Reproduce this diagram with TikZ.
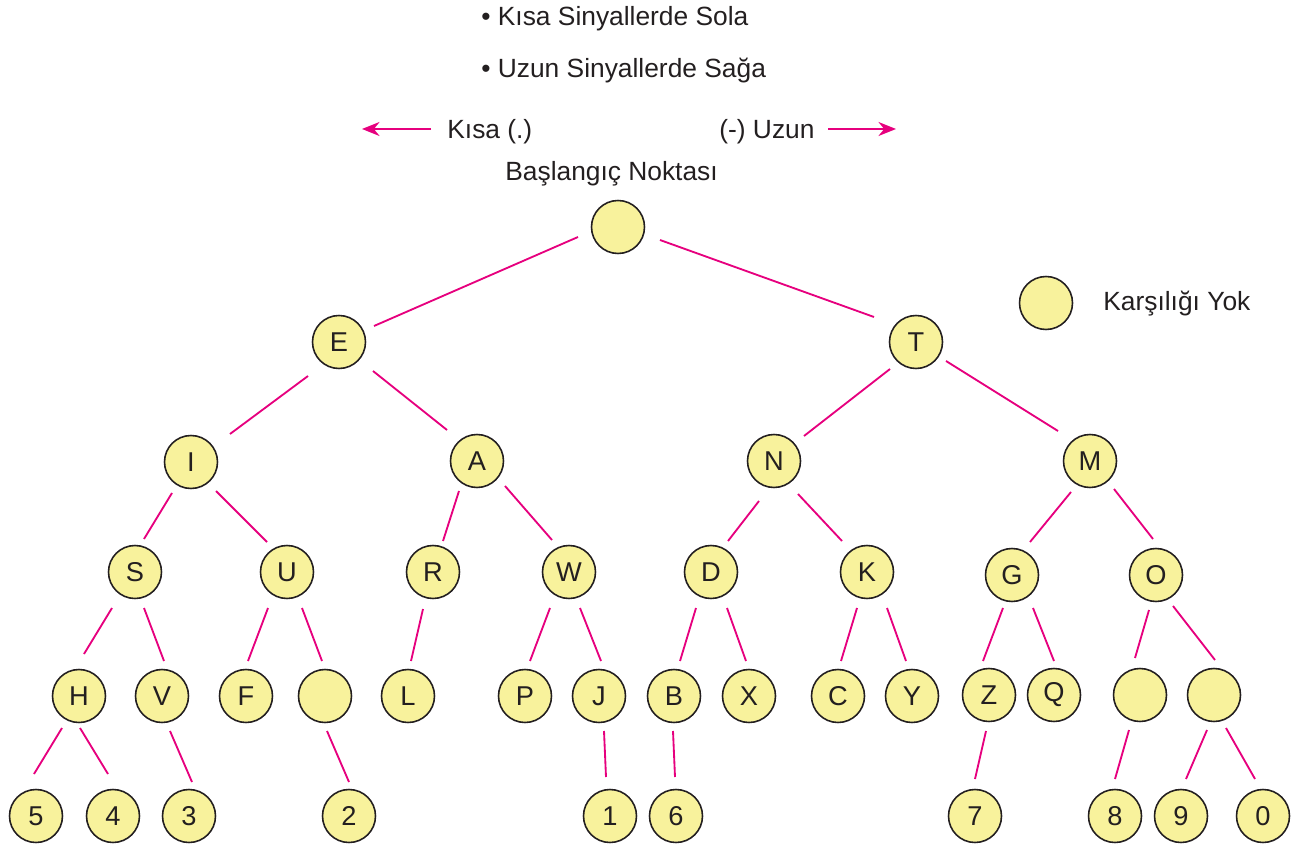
\documentclass[tikz,border=0pt]{standalone}
\usepackage{fontspec}
\setmainfont{Liberation Sans}
\usetikzlibrary{calc,arrows.meta}
\definecolor{pinkline}{HTML}{E6007E}
\definecolor{nodefill}{HTML}{F8F29C}
\definecolor{txt}{HTML}{231F20}
\newcommand\lnk[6]{\draw[conn] ($(#1)+(#3,#4)$) -- ($(#2)+(#5,#6)$);}
\begin{document}
\begin{tikzpicture}[x=0.02cm,y=-0.02cm,
  circ/.style={circle,draw=txt,line width=0.9pt,fill=nodefill,minimum size=1.06cm,inner sep=0pt,text=txt,font=\fontsize{15.5}{18}\selectfont},
  conn/.style={draw=pinkline,line width=1.05pt},
  arr/.style={draw=pinkline,line width=1.05pt,-{Stealth[length=10pt,width=8pt]}},
  lbl/.style={anchor=base west,inner sep=0pt,text=txt,font=\fontsize{15}{18}\selectfont}]
\useasboundingbox (0,0) rectangle (1311,847);
% texts
\node[lbl] (t1) at (481,26) {• Kısa Sinyallerde Sola};
\node[lbl] (t2) at (481,78) {• Uzun Sinyallerde Sağa};
\node[lbl] (ks) at (447,139) {Kısa (.)};
\node[lbl] (uz) at (719,139) {(-) Uzun};
\node[lbl] (bn) at (505,181) {Başlangıç Noktası};
\coordinate (la1) at (431,129); \coordinate (la2) at (362,129);
\coordinate (ra1) at (828,129); \coordinate (ra2) at (896,129);
\draw[arr] (la1) -- (la2);
\draw[arr] (ra1) -- (ra2);
% legend
\node[circ] (leg) at (1046,303) {};
\node[lbl] (legt) at (1103,311) {Karşılığı Yok};
% nodes
\node[circ] (root) at (618,227) {};
\node[circ] (E) at (339,342) {E};
\node[circ] (T) at (916,342) {T};
\node[circ] (I) at (191,462) {I};
\node[circ] (A) at (477,461) {A};
\node[circ] (N) at (774,461) {N};
\node[circ] (M) at (1090,461) {M};
\node[circ] (S) at (135,572) {S};
\node[circ] (U) at (287,572) {U};
\node[circ] (R) at (433,572) {R};
\node[circ] (W) at (569,572) {W};
\node[circ] (D) at (711,572) {D};
\node[circ] (K) at (867,572) {K};
\node[circ] (G) at (1012,575) {G};
\node[circ] (O) at (1156,575) {O};
\node[circ] (H) at (79,696) {H};
\node[circ] (V) at (162,696) {V};
\node[circ] (F) at (246,696) {F};
\node[circ] (u2) at (325,696) {};
\node[circ] (L) at (408,696) {L};
\node[circ] (P) at (525,696) {P};
\node[circ] (J) at (599,696) {J};
\node[circ] (B) at (674,696) {B};
\node[circ] (X) at (749,696) {X};
\node[circ] (C) at (838,696) {C};
\node[circ] (Y) at (912,696) {Y};
\node[circ] (Z) at (989,695) {Z};
\node[circ] (Q) at (1054,695) {Q};
\node[circ] (o1) at (1140,695) {};
\node[circ] (o2) at (1214,695) {};
\node[circ] (n5) at (36,816) {5};
\node[circ] (n4) at (113,816) {4};
\node[circ] (n3) at (189,816) {3};
\node[circ] (n2) at (349,816) {2};
\node[circ] (n1) at (610,816) {1};
\node[circ] (n6) at (676,816) {6};
\node[circ] (n7) at (975,816) {7};
\node[circ] (n8) at (1115,816) {8};
\node[circ] (n9) at (1181,816) {9};
\node[circ] (n0) at (1263,816) {0};
% connectors
\lnk{root}{E}{-40}{10}{35}{-16}
\lnk{root}{T}{42}{13}{-42}{-25}
\lnk{E}{I}{-31}{34}{39}{-28}
\lnk{E}{A}{34}{29}{-30}{-31}
\lnk{I}{S}{-19}{31}{9}{-33}
\lnk{I}{U}{25}{29}{-20}{-30}
\lnk{A}{R}{-18}{30}{10}{-31}
\lnk{A}{W}{28}{25}{-17}{-32}
\lnk{T}{N}{-26}{27}{30}{-25}
\lnk{T}{M}{30}{19}{-32}{-30}
\lnk{N}{D}{-15}{40}{17}{-31}
\lnk{N}{K}{24}{33}{-25}{-31}
\lnk{M}{G}{-19}{31}{18}{-33}
\lnk{M}{O}{24}{28}{-3}{-36}
\lnk{S}{H}{-23}{36}{5}{-42}
\lnk{S}{V}{9}{36}{2}{-35}
\lnk{U}{F}{-19}{36}{2}{-35}
\lnk{U}{u2}{15}{36}{-3}{-35}
\lnk{R}{L}{-10}{37}{3}{-35}
\lnk{W}{P}{-19}{36}{5}{-35}
\lnk{W}{J}{11}{36}{2}{-35}
\lnk{D}{B}{-15}{36}{6}{-35}
\lnk{D}{X}{16}{36}{-3}{-35}
\lnk{K}{C}{-10}{36}{3}{-35}
\lnk{K}{Y}{20}{36}{-6}{-35}
\lnk{G}{Z}{-9}{33}{-6}{-34}
\lnk{G}{Q}{21}{33}{0}{-34}
\lnk{O}{o1}{-7}{35}{-5}{-37}
\lnk{O}{o2}{17}{31}{1}{-35}
\lnk{H}{n5}{-17}{32}{-2}{-42}
\lnk{H}{n4}{1}{32}{-5}{-42}
\lnk{V}{n3}{8}{35}{3}{-34}
\lnk{u2}{n2}{2}{35}{0}{-34}
\lnk{J}{n1}{5}{35}{-4}{-39}
\lnk{B}{n6}{-1}{35}{-1}{-39}
\lnk{Z}{n7}{-3}{36}{0}{-37}
\lnk{o1}{n8}{-11}{35}{0}{-37}
\lnk{o2}{n9}{-7}{35}{5}{-37}
\lnk{o2}{n0}{12}{33}{-8}{-37}
\end{tikzpicture}
\end{document}
